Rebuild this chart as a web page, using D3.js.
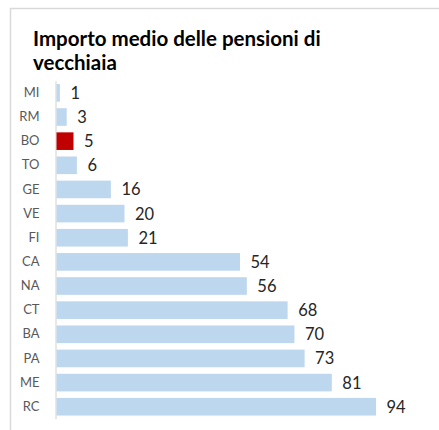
<!DOCTYPE html>
<html>
<head>
<meta charset="utf-8">
<script src="https://cdn.jsdelivr.net/npm/d3@7"></script>
<style>
  body { margin: 0; background: #fff; }
  svg { display: block; }
</style>
</head>
<body>
<div id="chart"></div>
<script>
var title_lines = ['Importo medio delle pensioni di', 'vecchiaia'];
var cities = ['MI', 'RM', 'BO', 'TO', 'GE', 'VE', 'FI', 'CA', 'NA', 'CT', 'BA', 'PA', 'ME', 'RC'];
var values = [1, 3, 5, 6, 16, 20, 21, 54, 56, 68, 70, 73, 81, 94];
var highlight = ['BO'];

var width = 439, height = 430;
var bar_color = '#bdd7ee',
  hi_color = '#c00000',
  frame_color = '#d9d9d9',
  label_color = '#595959',
  value_color = '#262626';

var svg = d3.select('#chart').append('svg')
  .attr('width', width)
  .attr('height', height);

// chart frame (only top and left visible)
svg.append('path')
  .attr('d', 'M10.5,' + height + 'V8.5H' + width)
  .attr('fill', 'none')
  .attr('stroke', frame_color)
  .attr('stroke-width', 1.5);

// title
svg.append('text')
  .attr('font-family', 'Lato, "Open Sans", sans-serif')
  .attr('font-weight', 'bold')
  .attr('font-size', 20.5)
  .attr('fill', '#000')
  .selectAll('tspan')
  .data(title_lines)
  .join('tspan')
  .attr('x', 33)
  .attr('y', function(d, i) { return 45.5 + i * 24.5; })
  .text(function(d) { return d; });

var x = d3.scaleLinear()
  .domain([0, 94])
  .range([56, 375.5]);

var y = d3.scaleBand()
  .domain(cities)
  .range([80.8, 418.8])
  .paddingInner(0.27)
  .paddingOuter(0.135);

// category axis
var yAxis = d3.axisLeft(y).tickSize(0).tickPadding(16);
var g = svg.append('g')
  .attr('transform', 'translate(55.5,0)')
  .call(yAxis);
g.select('.domain').attr('stroke', frame_color).attr('stroke-width', 1.2);
g.selectAll('text')
  .attr('font-family', 'Lato, "Open Sans", sans-serif')
  .attr('font-size', 13)
  .attr('fill', label_color);

svg.append('g')
  .selectAll('rect')
  .data(values)
  .join('rect')
  .attr('x', x(0) + 0.5)
  .attr('y', function(d, i) { return y(cities[i]); })
  .attr('width', function(d) { return x(d) - x(0); })
  .attr('height', y.bandwidth())
  .attr('fill', function(d, i) {
    return highlight.indexOf(cities[i]) >= 0 ? hi_color : bar_color;
  });

svg.append('g')
  .selectAll('text')
  .data(values)
  .join('text')
  .attr('x', function(d) { return x(d) + 11; })
  .attr('y', function(d, i) { return y(cities[i]) + y.bandwidth() / 2; })
  .attr('dy', '0.36em')
  .attr('font-family', 'Lato, "Open Sans", sans-serif')
  .attr('font-size', 16.5)
  .attr('fill', value_color)
  .text(function(d) { return d; });
</script>
</body>
</html>
